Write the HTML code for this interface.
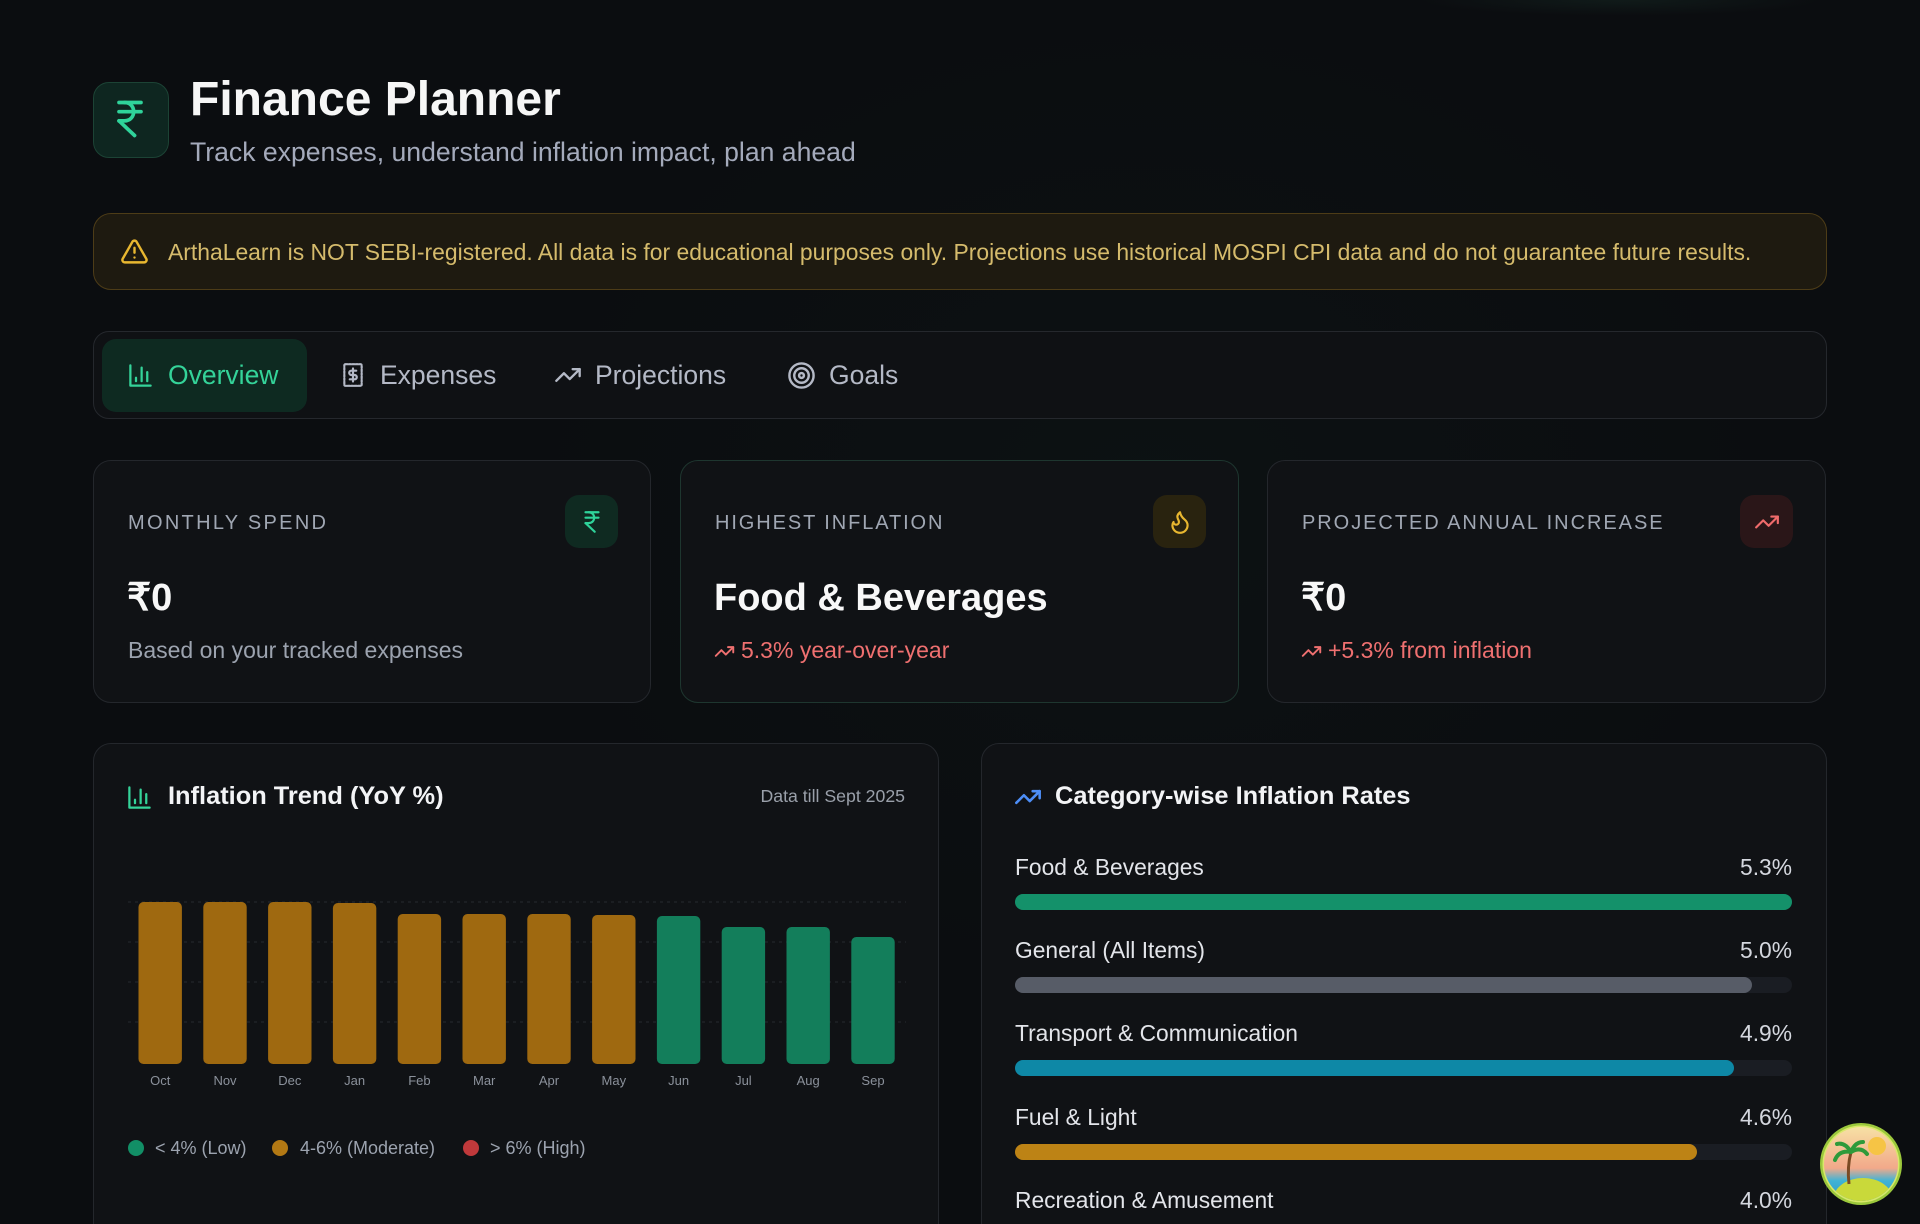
<!DOCTYPE html>
<html><head><meta charset="utf-8">
<style>
*{margin:0;padding:0;box-sizing:border-box}
html,body{width:1920px;height:1224px;overflow:hidden}
body{background:#0b0d10;font-family:"Liberation Sans",Arial,sans-serif;position:relative;color:#e5e7eb}
.bgglow{position:absolute;left:0;top:0;width:1920px;height:1224px;background:radial-gradient(ellipse 900px 700px at 1150px 500px,rgba(20,60,45,0.10),rgba(0,0,0,0) 70%),radial-gradient(ellipse 200px 16px at 1620px 0px,rgba(40,90,70,0.18),rgba(0,0,0,0) 100%)}
.a{position:absolute;white-space:nowrap;line-height:1}
.card{position:absolute;background:#101215;border:1.5px solid #24272c;border-radius:18px}
.lbl{font-size:20px;letter-spacing:2.3px;color:#a0a7b3}
.val{font-size:38px;font-weight:bold;color:#f8f8f8}
.sub{font-size:23px;color:#9ca3af}
.red{color:#ef7070}
.ibox{position:absolute;width:53px;height:53px;border-radius:14px;display:flex;align-items:center;justify-content:center}
.tab{font-size:26.5px;color:#b4b9c6}
.row{font-size:22.8px;color:#e3e5ea}
.pct{font-size:22.8px;color:#d4d7de;text-align:right;width:100px}
.track{position:absolute;left:1015px;width:777px;height:16px;border-radius:8px;background:#1a1d23}
.fill{position:absolute;left:0;top:0;height:16px;border-radius:8px}
svg.ic{position:absolute;fill:none;stroke-linecap:round;stroke-linejoin:round}
</style></head>
<body>
<div class="bgglow"></div>

<!-- Header -->
<div style="position:absolute;left:93px;top:82px;width:76px;height:76px;border-radius:16px;background:#0e2620;border:1.5px solid #1c4335"></div>
<svg class="ic" style="left:108px;top:97px" width="44" height="44" viewBox="0 0 24 24" stroke="#2fd39a" stroke-width="2"><path d="M6 3h12"/><path d="M6 8h12"/><path d="m6 13 8.5 8"/><path d="M6 13h3"/><path d="M9 13c6.667 0 6.667-10 0-10"/></svg>
<div class="a" style="left:190px;top:76px;font-size:48px;font-weight:bold;color:#f6f6f6">Finance Planner</div>
<div class="a" style="left:190px;top:139px;font-size:26.6px;color:#a4aabb">Track expenses, understand inflation impact, plan ahead</div>

<!-- Alert -->
<div style="position:absolute;left:93px;top:213px;width:1734px;height:77px;border-radius:18px;background:#1e1a10;border:1.5px solid #4d3c17"></div>
<svg class="ic" style="left:120px;top:237px" width="29" height="29" viewBox="0 0 24 24" stroke="#e8b730" stroke-width="2"><path d="m21.73 18-8-14a2 2 0 0 0-3.48 0l-8 14A2 2 0 0 0 4 21h16a2 2 0 0 0 1.73-3Z"/><path d="M12 9v4"/><path d="M12 17h.01"/></svg>
<div class="a" style="left:168px;top:241px;font-size:22.9px;color:#d5bb6c">ArthaLearn is NOT SEBI-registered. All data is for educational purposes only. Projections use historical MOSPI CPI data and do not guarantee future results.</div>

<!-- Tabs -->
<div style="position:absolute;left:93px;top:331px;width:1734px;height:88px;border-radius:16px;background:#0f1114;border:1.5px solid #25282d"></div>
<div style="position:absolute;left:102px;top:339px;width:205px;height:73px;border-radius:14px;background:#0e2a21"></div>
<svg class="ic" style="left:127px;top:362px" width="27" height="27" viewBox="0 0 24 24" stroke="#34d399" stroke-width="2"><path d="M3 3v18h18"/><path d="M18 17V9"/><path d="M13 17V5"/><path d="M8 17v-3"/></svg>
<div class="a tab" style="left:168px;top:362px;color:#34d399">Overview</div>
<svg class="ic" style="left:340px;top:362px" width="26" height="26" viewBox="0 0 24 24" stroke="#b4b9c6" stroke-width="2"><rect x="4" y="2" width="16" height="20" rx="1" stroke-dasharray="2 1.2"/><path d="M15 8h-4.5a2 2 0 0 0 0 4h3a2 2 0 0 1 0 4H9"/><path d="M12 6v12"/></svg>
<div class="a tab" style="left:380px;top:362px">Expenses</div>
<svg class="ic" style="left:554px;top:361px" width="28" height="28" viewBox="0 0 24 24" stroke="#b4b9c6" stroke-width="2"><polyline points="22 7 13.5 15.5 8.5 10.5 2 17"/><polyline points="16 7 22 7 22 13"/></svg>
<div class="a tab" style="left:595px;top:362px">Projections</div>
<svg class="ic" style="left:787px;top:361px" width="29" height="29" viewBox="0 0 24 24" stroke="#b4b9c6" stroke-width="2"><circle cx="12" cy="12" r="10"/><circle cx="12" cy="12" r="6"/><circle cx="12" cy="12" r="2"/></svg>
<div class="a tab" style="left:829px;top:362px">Goals</div>

<!-- Stat cards -->
<div class="card" style="left:93px;top:460px;width:558px;height:243px"></div>
<div class="card" style="left:680px;top:460px;width:559px;height:243px;border-color:#1e362f"></div>
<div class="card" style="left:1267px;top:460px;width:559px;height:243px"></div>

<div class="a lbl" style="left:128px;top:513px">MONTHLY SPEND</div>
<div class="ibox" style="left:565px;top:495px;background:#0f2a21">
<svg width="26" height="26" viewBox="0 0 24 24" fill="none" stroke="#2fd39a" stroke-width="2" stroke-linecap="round" stroke-linejoin="round"><path d="M6 3h12"/><path d="M6 8h12"/><path d="m6 13 8.5 8"/><path d="M6 13h3"/><path d="M9 13c6.667 0 6.667-10 0-10"/></svg></div>
<div class="a val" style="left:127px;top:579px">₹0</div>
<div class="a sub" style="left:128px;top:639px">Based on your tracked expenses</div>

<div class="a lbl" style="left:715px;top:513px;letter-spacing:1.9px">HIGHEST INFLATION</div>
<div class="ibox" style="left:1153px;top:495px;background:#29230f">
<svg width="26" height="26" viewBox="0 0 24 24" fill="none" stroke="#e8b730" stroke-width="2" stroke-linecap="round" stroke-linejoin="round"><path d="M8.5 14.5A2.5 2.5 0 0 0 11 12c0-1.38-.5-2-1-3-1.072-2.143-.224-4.054 2-6 .5 2.5 2 4.9 4 6.5 2 1.6 3 3.5 3 5.5a7 7 0 1 1-14 0c0-1.153.433-2.294 1-3a2.5 2.5 0 0 0 2.5 2.5z"/></svg></div>
<div class="a val" style="left:714px;top:579px">Food &amp; Beverages</div>
<svg class="ic" style="left:714px;top:641px" width="21" height="21" viewBox="0 0 24 24" stroke="#ef7070" stroke-width="2.2"><polyline points="22 7 13.5 15.5 8.5 10.5 2 17"/><polyline points="16 7 22 7 22 13"/></svg>
<div class="a sub red" style="left:741px;top:639px">5.3% year-over-year</div>

<div class="a lbl" style="left:1302px;top:513px;letter-spacing:1.95px">PROJECTED ANNUAL INCREASE</div>
<div class="ibox" style="left:1740px;top:495px;background:#2a1618">
<svg width="26" height="26" viewBox="0 0 24 24" fill="none" stroke="#ef6b6b" stroke-width="2" stroke-linecap="round" stroke-linejoin="round"><polyline points="22 7 13.5 15.5 8.5 10.5 2 17"/><polyline points="16 7 22 7 22 13"/></svg></div>
<div class="a val" style="left:1301px;top:579px">₹0</div>
<svg class="ic" style="left:1301px;top:641px" width="21" height="21" viewBox="0 0 24 24" stroke="#ef7070" stroke-width="2.2"><polyline points="22 7 13.5 15.5 8.5 10.5 2 17"/><polyline points="16 7 22 7 22 13"/></svg>
<div class="a sub red" style="left:1328px;top:639px">+5.3% from inflation</div>

<!-- Chart cards -->
<div class="card" style="left:93px;top:743px;width:846px;height:520px"></div>
<div class="card" style="left:981px;top:743px;width:846px;height:520px"></div>

<svg class="ic" style="left:126px;top:784px" width="27" height="27" viewBox="0 0 24 24" stroke="#34d399" stroke-width="2"><path d="M3 3v18h18"/><path d="M18 17V9"/><path d="M13 17V5"/><path d="M8 17v-3"/></svg>
<div class="a" style="left:168px;top:784px;font-size:25.4px;font-weight:bold;color:#f3f4f6">Inflation Trend (YoY %)</div>
<div class="a" style="left:705px;top:788px;width:200px;text-align:right;font-size:17.7px;color:#9aa0aa">Data till Sept 2025</div>

<svg style="position:absolute;left:0;top:0" width="1920" height="1224" font-family="Liberation Sans, Arial, sans-serif">
  <g stroke="#262a30" stroke-width="1" stroke-dasharray="3 4">
    <line x1="128" y1="902" x2="906" y2="902"/>
    <line x1="128" y1="942" x2="906" y2="942"/>
    <line x1="128" y1="982" x2="906" y2="982"/>
    <line x1="128" y1="1022" x2="906" y2="1022"/>
  </g>
  <g fill="#9f6910">
    <rect x="138.5" y="902" width="43.4" height="162" rx="5"/>
    <rect x="203.3" y="902" width="43.4" height="162" rx="5"/>
    <rect x="268.1" y="902" width="43.4" height="162" rx="5"/>
    <rect x="332.9" y="903" width="43.4" height="161" rx="5"/>
    <rect x="397.7" y="914" width="43.4" height="150" rx="5"/>
    <rect x="462.5" y="914" width="43.4" height="150" rx="5"/>
    <rect x="527.3" y="914" width="43.4" height="150" rx="5"/>
    <rect x="592.1" y="915" width="43.4" height="149" rx="5"/>
  </g>
  <g fill="#137e5b">
    <rect x="656.9" y="916" width="43.4" height="148" rx="5"/>
    <rect x="721.7" y="927" width="43.4" height="137" rx="5"/>
    <rect x="786.5" y="927" width="43.4" height="137" rx="5"/>
    <rect x="851.3" y="937" width="43.4" height="127" rx="5"/>
  </g>
  <g fill="#8b919b" font-size="13" text-anchor="middle">
    <text x="160.2" y="1085">Oct</text>
    <text x="225" y="1085">Nov</text>
    <text x="289.8" y="1085">Dec</text>
    <text x="354.6" y="1085">Jan</text>
    <text x="419.4" y="1085">Feb</text>
    <text x="484.2" y="1085">Mar</text>
    <text x="549" y="1085">Apr</text>
    <text x="613.8" y="1085">May</text>
    <text x="678.6" y="1085">Jun</text>
    <text x="743.4" y="1085">Jul</text>
    <text x="808.2" y="1085">Aug</text>
    <text x="873" y="1085">Sep</text>
  </g>
  <circle cx="136" cy="1148" r="8" fill="#128f66"/>
  <circle cx="280" cy="1148" r="8" fill="#b37914"/>
  <circle cx="471" cy="1148" r="8" fill="#c0393b"/>
  <g fill="#9ca3af" font-size="18">
    <text x="155" y="1154">&lt; 4% (Low)</text>
    <text x="300" y="1154">4-6% (Moderate)</text>
    <text x="490" y="1154">&gt; 6% (High)</text>
  </g>
</svg>

<!-- Right card -->
<svg class="ic" style="left:1014px;top:783px" width="28" height="28" viewBox="0 0 24 24" stroke="#4d8ef7" stroke-width="2.2"><polyline points="22 7 13.5 15.5 8.5 10.5 2 17"/><polyline points="16 7 22 7 22 13"/></svg>
<div class="a" style="left:1055px;top:784px;font-size:25.4px;font-weight:bold;color:#f3f4f6">Category-wise Inflation Rates</div>

<div class="a row" style="left:1015px;top:856px">Food &amp; Beverages</div>
<div class="a pct" style="left:1692px;top:856px">5.3%</div>
<div class="track" style="top:894px"><div class="fill" style="width:777px;background:#14916a"></div></div>

<div class="a row" style="left:1015px;top:939px">General (All Items)</div>
<div class="a pct" style="left:1692px;top:939px">5.0%</div>
<div class="track" style="top:977px"><div class="fill" style="width:737px;background:#575c67"></div></div>

<div class="a row" style="left:1015px;top:1022px">Transport &amp; Communication</div>
<div class="a pct" style="left:1692px;top:1022px">4.9%</div>
<div class="track" style="top:1060px"><div class="fill" style="width:719px;background:#0e88a6"></div></div>

<div class="a row" style="left:1015px;top:1106px">Fuel &amp; Light</div>
<div class="a pct" style="left:1692px;top:1106px">4.6%</div>
<div class="track" style="top:1144px"><div class="fill" style="width:682px;background:#bd8315"></div></div>

<div class="a row" style="left:1015px;top:1189px">Recreation &amp; Amusement</div>
<div class="a pct" style="left:1692px;top:1189px">4.0%</div>

<!-- floating avatar -->
<svg style="position:absolute;left:1819px;top:1122px" width="84" height="84" viewBox="0 0 84 84">
  <defs>
    <clipPath id="cc"><circle cx="42" cy="42" r="37"/></clipPath>
    <linearGradient id="sky" x1="0" y1="0" x2="0" y2="1">
      <stop offset="0" stop-color="#f7e7a8"/><stop offset="0.55" stop-color="#f2a98a"/><stop offset="0.7" stop-color="#3fb3d6"/><stop offset="1" stop-color="#2b8fc0"/>
    </linearGradient>
  </defs>
  <circle cx="42" cy="42" r="41" fill="#9cc83c"/>
  <circle cx="42" cy="42" r="38.5" fill="#d9e86a"/>
  <g clip-path="url(#cc)">
    <rect x="0" y="0" width="84" height="84" fill="url(#sky)"/>
    <circle cx="58" cy="24" r="9" fill="#f6c445"/>
    <ellipse cx="44" cy="78" rx="30" ry="22" fill="#c9d93a"/>
    <path d="M30 62 Q28 45 32 30" stroke="#7a4a24" stroke-width="3" fill="none"/>
    <path d="M32 30 q-12 -2 -16 8 M32 30 q10 -6 16 2 M32 30 q-6 -10 -14 -8 M32 30 q4 -10 12 -10" stroke="#2e9a3a" stroke-width="4" fill="none" stroke-linecap="round"/>
  </g>
</svg>
</body></html>
